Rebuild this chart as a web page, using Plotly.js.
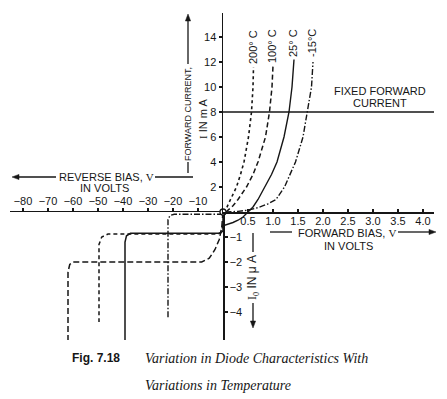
<!DOCTYPE html>
<html><head><meta charset="utf-8">
<script src="https://cdn.plot.ly/plotly-3.0.1.min.js"></script>
<style>html,body{margin:0;padding:0;background:#fff}#g{width:447px;height:399px}</style>
</head><body><div id="g"></div>
<script>
// ---- tick values / labels ----
const revTicks = [-80, -70, -60, -50, -40, -30, -20, -10];
const fwdTicks = [0.5, 1.0, 1.5, 2.0, 2.5, 3.0, 3.5, 4.0];
const fwdTickText = ["0.5", "1.0", "1.5", "2.0", "2.5", "3.0", "3.5", "4.0"];
const mATicks = [2, 4, 6, 8, 10, 12, 14];
const uATicks = [-1, -2, -3, -4];
const curveLabels = ["200° C", "100° C", "25° C", "-15°C"];

// ---- forward branch (V in volts, I in mA) ----
const fwd200V = [0.0, 0.08, 0.15, 0.27, 0.35, 0.42, 0.51, 0.57, 0.60, 0.61];
const fwd200I = [0, 0.4, 1, 2, 3, 4, 6, 8, 10, 11.6];
const fwd100V = [0.06, 0.2, 0.3, 0.47, 0.6, 0.7, 0.85, 0.93, 0.98, 1.0];
const fwd100I = [0, 0.5, 1, 2, 3, 4, 6, 8, 10, 11.7];
const fwd25V = [0.5, 0.6, 0.7, 0.83, 0.97, 1.08, 1.22, 1.32, 1.38, 1.42];
const fwd25I = [0, 0.4, 1.0, 2.0, 3.0, 4.0, 6.0, 8.0, 10.0, 12.2];
const fwdm15V = [0.05, 0.3, 0.5, 0.7, 0.9, 1.06, 1.23, 1.45, 1.6, 1.69, 1.77, 1.8];
const fwdm15I = [0, 0.05, 0.15, 0.35, 0.65, 1, 2, 4, 6, 8, 10, 12];
// 25°C forward part below the axis (I in µA)
const fwd25uV = [0, 0.1, 0.2, 0.3, 0.4, 0.47, 0.5];
const fwd25uI = [-0.55, -0.5, -0.42, -0.33, -0.2, -0.06, 0];

// ---- reverse branch (V in volts, I in µA) ----
const rev200V = [0, -0.5, -1.5, -3.2, -5.5, -8.5, -60, -61.3, -62, -62];
const rev200I = [0, -0.6, -1.1, -1.5, -1.85, -2.0, -2.0, -2.1, -2.4, -5.12];
const rev100V = [0, -0.8, -2, -46, -48.5, -49.6, -49.6];
const rev100I = [-0.5, -0.8, -0.88, -0.88, -1.0, -1.3, -4.4];
const rev25V = [0, 0, -1, -37, -38.6, -39.2, -39.2];
const rev25I = [0, -0.75, -0.85, -0.85, -0.95, -1.2, -5.12];
const revm15V = [0, -19.5, -21.2, -22, -22];
const revm15I = [-0.09, -0.09, -0.14, -0.3, -4.24];

// fixed forward current (mA)
const fixedI = 8;
const fixedV = [0, 4.22];
const originV = [0], originI = [0];

// ---- pixel helpers for layout (plot area 10..434 x, 13..340 y) ----
const L = 10, R = 13, T = 13, B = 59, W = 447, H = 399;
const pw = W - L - R, ph = H - T - B;
const px = x => (x - L) / pw;
const py = y => (H - B - y) / ph;
const xSplit = px(223), ySplit = py(212);

const K = '#161616';
const sans = 'Liberation Sans, Arial, sans-serif';
const serif = 'Liberation Serif, Times New Roman, serif';

function ln(x, y, xa, ya, dash, w) {
  return {x: x, y: y, xaxis: xa, yaxis: ya, mode: 'lines', hoverinfo: 'skip',
    line: {color: K, width: w || 1.4, dash: dash}, showlegend: false};
}
const fixedIs = fixedV.map(() => fixedI);
const data = [
  ln(fwd200V, fwd200I, 'x2', 'y2', 'dot', 1.6),
  ln(fwd100V, fwd100I, 'x2', 'y2', '5px,3px', 1.5),
  ln(fwd25V, fwd25I, 'x2', 'y2', 'solid', 1.4),
  ln(fwdm15V, fwdm15I, 'x2', 'y2', '6px,2px,1.5px,2px', 1.4),
  ln(fwd25uV, fwd25uI, 'x2', 'y', 'solid', 1.4),
  ln(rev200V, rev200I, 'x', 'y', '6px,3px', 1.5),
  ln(rev100V, rev100I, 'x', 'y', '4px,3px', 1.5),
  ln(rev25V, rev25I, 'x', 'y', 'solid', 1.5),
  ln(revm15V, revm15I, 'x', 'y', '6px,2px,1.5px,2px', 1.4),
  ln(fixedV, fixedIs, 'x2', 'y2', 'solid', 1.4),
  {x: originV, y: originI, xaxis: 'x2', yaxis: 'y2', mode: 'markers', cliponaxis: false,
   hoverinfo: 'skip', showlegend: false,
   marker: {symbol: 'circle', size: 6, color: '#fff', line: {color: K, width: 1.3}}}
];

const axBase = {showgrid: false, zeroline: false, showline: true, linecolor: K, linewidth: 1.5,
  tickcolor: K, tickwidth: 1.2, ticklen: 3, tickfont: {family: sans, size: 11, color: K}, fixedrange: true};

function ann(x, y, text, o) {
  return Object.assign({xref: 'paper', yref: 'paper', x: px(x), y: py(y), text: text, showarrow: false,
    font: {family: sans, size: 11, color: K}, xanchor: 'center', yanchor: 'middle'}, o || {});
}
function seg(x0, y0, x1, y1) {
  return {type: 'line', xref: 'paper', yref: 'paper', x0: px(x0), y0: py(y0), x1: px(x1), y1: py(y1),
    line: {color: K, width: 1.3}};
}
// arrowhead triangle with tip at (x,y) pointing in direction (dx,dy)
function head(x, y, dx, dy) {
  const len = 7, hw = 2.6;
  const bx = x - dx * len, by = y - dy * len;
  const p1 = [bx - dy * hw, by + dx * hw], p2 = [bx + dy * hw, by - dx * hw];
  const P = (a, b) => px(a) + ',' + py(b);
  return {type: 'path', xref: 'paper', yref: 'paper',
    path: 'M' + P(x, y) + 'L' + P(p1[0], p1[1]) + 'L' + P(p2[0], p2[1]) + 'Z',
    fillcolor: K, line: {color: K, width: 0.5}};
}
const V = '<span style="font-family:Liberation Serif">V</span>';
const annotations = [
  ann(106, 177, 'REVERSE BIAS, ' + V),
  ann(104, 188, 'IN VOLTS'),
  ann(347, 233, 'FORWARD BIAS, ' + V),
  ann(348, 246, 'IN VOLTS'),
  ann(188, 114, 'FORWARD CURRENT,', {textangle: -90, font: {family: sans, size: 9, color: K}}),
  ann(203, 119, '<span style="font-family:Liberation Serif">I</span> IN m A', {textangle: -90}),
  ann(253, 277, '<span style="font-family:Liberation Serif">I<sub>0</sub></span> IN μ A', {textangle: -90, font: {family: sans, size: 12, color: K}}),
  ann(380, 91, 'FIXED FORWARD'),
  ann(380, 103, 'CURRENT'),
  ann(253, 47, curveLabels[0], {textangle: -90}),
  ann(272, 46, curveLabels[1], {textangle: -90}),
  ann(293, 43, curveLabels[2], {textangle: -90}),
  ann(312, 43, curveLabels[3], {textangle: -90}),
  ann(70, 358, '<b>Fig. 7.18</b>', {xanchor: 'left', font: {family: sans, size: 12, color: K}}),
  ann(143, 358, '<i>Variation in Diode Characteristics With</i>', {xanchor: 'left', font: {family: serif, size: 14, color: K}}),
  ann(143, 385, '<i>Variations in Temperature</i>', {xanchor: 'left', font: {family: serif, size: 14, color: K}})
];
const shapes = [
  seg(18, 177, 56, 177), head(12, 177, -1, 0),
  seg(155, 177, 193, 177),
  seg(270, 232, 292, 232),
  seg(398, 232, 430, 232), head(436, 232, 1, 0),
  seg(188, 162, 188, 173),
  seg(188, 20, 188, 64), head(188, 14, 0, -1),
  seg(253, 233, 253, 252),
  seg(253, 303, 253, 322), head(253, 328, 0, 1)
];

const layout = {
  width: W, height: H, margin: {l: L, r: R, t: T, b: B, pad: 0},
  paper_bgcolor: '#fff', plot_bgcolor: 'rgba(0,0,0,0)', showlegend: false,
  xaxis: Object.assign({}, axBase, {domain: [0, xSplit], range: [-85.2, 0], anchor: 'y', side: 'top',
    ticks: 'outside', tickvals: revTicks, ticklabelstandoff: -2}),
  xaxis2: Object.assign({}, axBase, {domain: [xSplit, 1], range: [0, 4.22], anchor: 'y2', side: 'bottom',
    ticks: 'inside', tickvals: fwdTicks, ticktext: fwdTickText, ticklabelstandoff: -2}),
  yaxis: Object.assign({}, axBase, {domain: [0, ySplit], range: [-5.12, 0], anchor: 'x', side: 'right',
    ticks: 'outside', tickvals: uATicks}),
  yaxis2: Object.assign({}, axBase, {domain: [ySplit, 1], range: [0, 15.92], anchor: 'x2', side: 'left',
    ticks: 'outside', tickvals: mATicks}),
  annotations: annotations, shapes: shapes
};
Plotly.newPlot('g', data, layout, {staticPlot: true, displayModeBar: false});
</script></body></html>
